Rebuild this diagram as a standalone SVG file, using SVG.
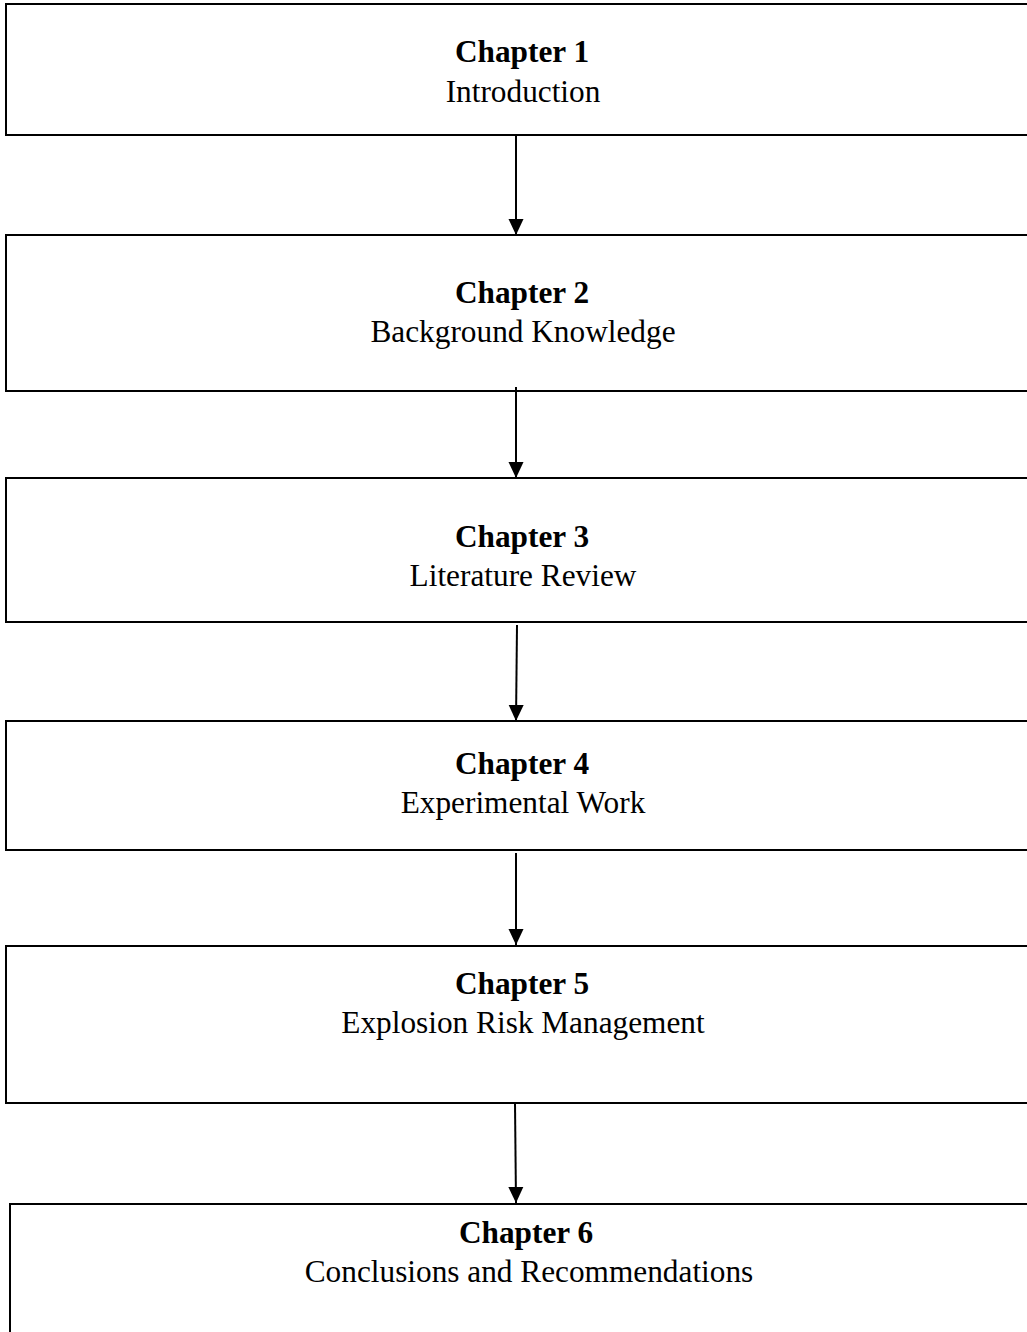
<svg xmlns="http://www.w3.org/2000/svg" width="1027" height="1332" viewBox="0 0 1027 1332">
<style>
.box{fill:#fff;stroke:#000;stroke-width:2}
.t{font-family:"Liberation Serif","Times New Roman",serif;font-size:31.3px;text-anchor:middle;fill:#000}
.b{font-weight:bold}
.c{stroke:#000;stroke-width:2;fill:none;marker-end:url(#ah)}
</style>
<defs>
<marker id="ah" viewBox="0 0 16 16" refX="16" refY="8" markerWidth="16" markerHeight="16" markerUnits="userSpaceOnUse" orient="auto">
<path d="M0,0.5 L16,8 L0,15.5 Z" fill="#000"/>
</marker>
</defs>
<rect width="1027" height="1332" fill="#fff"/>
<g id="ch1">
<rect class="box" x="6" y="4" width="1030" height="131"/>
<text class="t b" x="522" y="62">Chapter 1</text>
<text class="t" x="523" y="102">Introduction</text>
</g>
<g id="ch2">
<rect class="box" x="6" y="235" width="1030" height="156"/>
<text class="t b" x="522" y="303">Chapter 2</text>
<text class="t" x="523" y="342">Background Knowledge</text>
</g>
<g id="ch3">
<rect class="box" x="6" y="478" width="1030" height="144"/>
<text class="t b" x="522" y="547">Chapter 3</text>
<text class="t" x="523" y="586">Literature Review</text>
</g>
<g id="ch4">
<rect class="box" x="6" y="721" width="1030" height="129"/>
<text class="t b" x="522" y="774">Chapter 4</text>
<text class="t" x="523" y="813">Experimental Work</text>
</g>
<g id="ch5">
<rect class="box" x="6" y="946" width="1030" height="157"/>
<text class="t b" x="522" y="994">Chapter 5</text>
<text class="t" x="523" y="1033">Explosion Risk Management</text>
</g>
<g id="ch6">
<rect class="box" x="10" y="1204" width="1030" height="140"/>
<text class="t b" x="526" y="1243">Chapter 6</text>
<text class="t" x="529" y="1282">Conclusions and Recommendations</text>
</g>
<g id="connectors">
<line class="c" x1="516" y1="135" x2="516" y2="235"/>
<line class="c" x1="516" y1="387" x2="516" y2="478"/>
<line class="c" x1="517" y1="625" x2="516" y2="721"/>
<line class="c" x1="516" y1="853" x2="516" y2="945"/>
<line class="c" x1="515" y1="1103" x2="516" y2="1203"/>
</g>
</svg>
